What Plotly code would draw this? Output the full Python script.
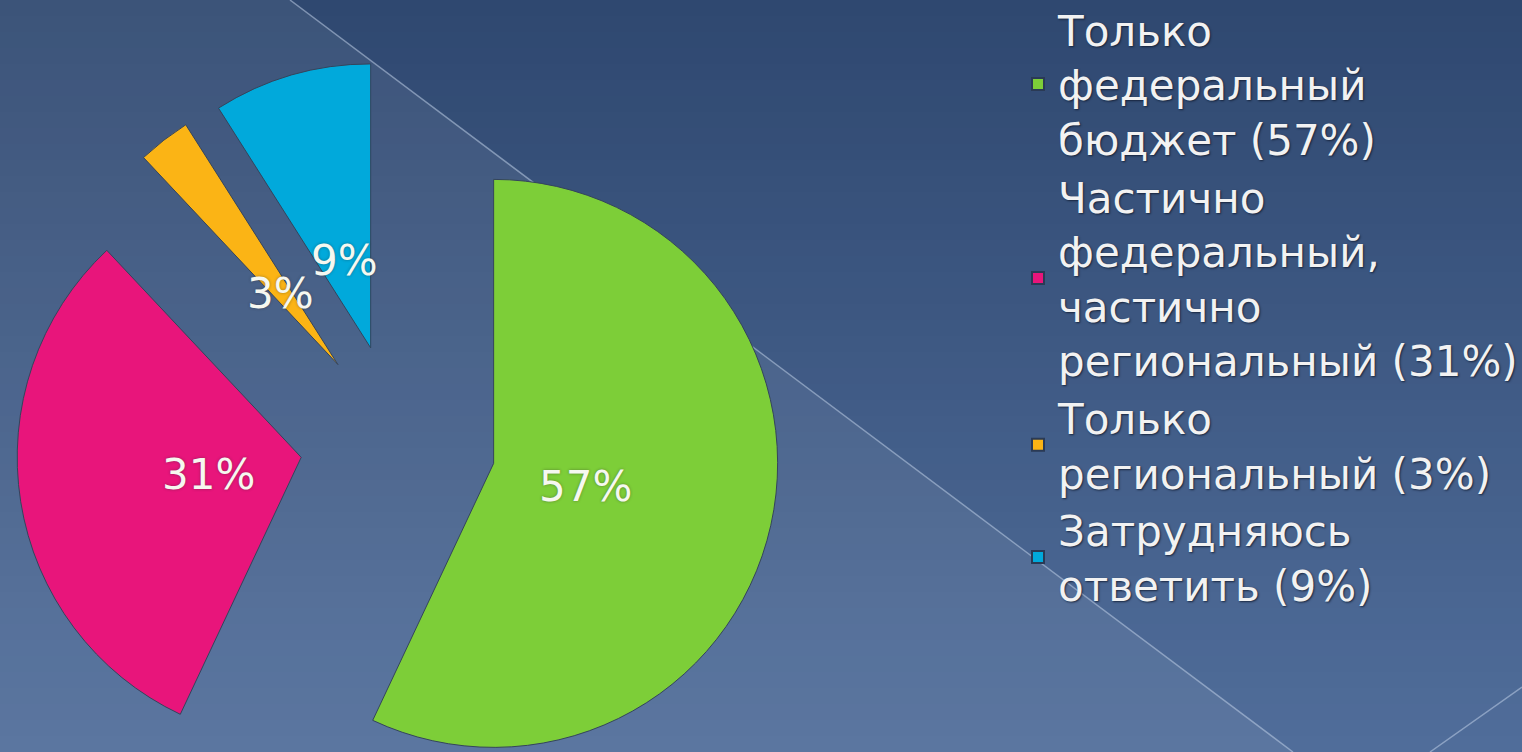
import math
import plotly.graph_objects as go

# ---- data ----
CATEGORIES = [
    "Только федеральный бюджет",
    "Частично федеральный, частично региональный",
    "Только региональный",
    "Затрудняюсь ответить",
]
LEGEND_LABELS = [
    "Только<br>федеральный<br>бюджет (57%)",
    "Частично<br>федеральный,<br>частично<br>региональный (31%)",
    "Только<br>региональный (3%)",
    "Затрудняюсь<br>ответить (9%)",
]
VALUES = [57, 31, 3, 9]
COLORS = ["#7dce38", "#e8157b", "#fbb415", "#01a9db"]

# ---- layout / style constants (pixels) ----
W, H = 1522, 752
CX, CY = 398, 442      # centre of the (unexploded) pie
R = 284                # slice radius
PULL = 98              # explode distance
LABEL_R = 0.33         # label position as a fraction of radius
FONT = "DejaVu Sans, Arial, sans-serif"

fig = go.Figure()

# ---- background gradient ----
shapes = []
top = (47, 72, 112)
bot = (80, 109, 154)
N = 47
for k in range(N):
    t = k / (N - 1)
    c = tuple(round(top[j] + (bot[j] - top[j]) * t) for j in range(3))
    shapes.append(dict(type="rect", xref="paper", yref="paper", x0=0, x1=1,
                       y0=max(0, 1 - (k + 1) / N - 0.002), y1=1 - k / N,
                       fillcolor="rgb(%d,%d,%d)" % c, line=dict(width=0), layer="below"))
# lighter triangle left of the diagonal
shapes.append(dict(type="path", xref="paper", yref="paper",
                   path="M 0 1 L %.4f 1 L %.4f 0 L 0 0 Z" % (290 / W, 1293 / W),
                   fillcolor="rgba(255,255,255,0.068)", line=dict(width=0), layer="below"))
shapes.append(dict(type="line", xref="paper", yref="paper", x0=290 / W, y0=1, x1=1293 / W, y1=0,
                   line=dict(color="rgba(190,205,230,0.55)", width=1.5), layer="below"))
shapes.append(dict(type="line", xref="paper", yref="paper", x0=1430 / W, y0=0, x1=1, y1=1 - 687 / H,
                   line=dict(color="rgba(190,205,230,0.55)", width=1.5), layer="below"))

# ---- exploded pie: one pie trace per visible slice ----
total = sum(VALUES)
cum = 0
n = len(VALUES)
for i, v in enumerate(VALUES):
    start = cum / total * 360.0
    cum += v
    mid = math.radians(start + v / total * 180.0)
    sx, sy = math.sin(mid), -math.cos(mid)
    ax, ay = CX + PULL * sx, CY + PULL * sy
    fig.add_trace(go.Pie(
        labels=CATEGORIES, values=VALUES, sort=False, direction="clockwise", rotation=0,
        marker=dict(colors=[COLORS[j] if j == i else "rgba(0,0,0,0)" for j in range(n)],
                    line=dict(color="#34445c", width=[1 if j == i else 0 for j in range(n)])),
        textinfo="none", showlegend=False, hoverinfo="label+percent",
        domain=dict(x=[(ax - R) / W, (ax + R) / W], y=[1 - (ay + R) / H, 1 - (ay - R) / H]),
    ))
    lx, ly = ax + LABEL_R * R * sx, ay + LABEL_R * R * sy
    fig.add_annotation(x=lx / W, y=1 - ly / H, xref="paper", yref="paper", yshift=-3,
                       text=f"{v}%", showarrow=False, xanchor="center", yanchor="middle",
                       font=dict(family=FONT, size=42, color="#f6f8f0",
                                 shadow="0px 0px 3px rgba(40,40,40,0.45)"))

# ---- legend entries ----
for i in range(n):
    fig.add_trace(go.Scatter(
        x=[None], y=[None], mode="markers", name=LEGEND_LABELS[i], hoverinfo="skip",
        marker=dict(symbol="square", size=10, color=COLORS[i],
                    line=dict(color="#2a3a55", width=1)),
    ))

fig.update_layout(
    width=W, height=H,
    margin=dict(l=0, r=0, t=0, b=0, autoexpand=False),
    paper_bgcolor="#2f4870", plot_bgcolor="rgba(0,0,0,0)",
    shapes=shapes,
    xaxis=dict(visible=False), yaxis=dict(visible=False),
    showlegend=True,
    legend=dict(x=1018 / W, y=0.5917, xanchor="left", yanchor="middle",
                bgcolor="rgba(0,0,0,0)", borderwidth=0, tracegroupgap=0,
                itemsizing="constant",
                font=dict(family=FONT, size=42, color="#f2f2f2",
                          shadow="1px 1px 2px rgba(15,25,45,0.8)")),
)

fig.write_html(
    "out.html",
    config={"displayModeBar": False},
    post_script="document.body.style.margin='0';document.documentElement.style.overflow='hidden';",
)
